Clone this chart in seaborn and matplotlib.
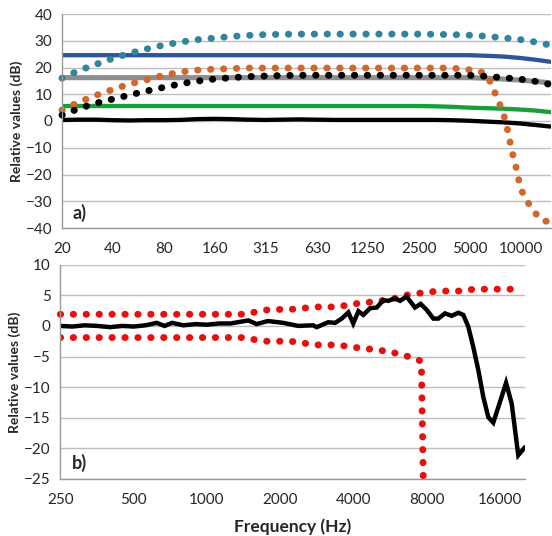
import numpy as np
import pandas as pd
import matplotlib
matplotlib.use("Agg")
import matplotlib.pyplot as plt
import seaborn as sns

# ---- panel a) data (frequency in Hz, level in dB) ----
freq_a = [20, 25, 31.5, 40, 50, 63, 80, 100, 125, 160, 200, 250, 315, 400, 500,
          630, 800, 1000, 1250, 1600, 2000, 2500, 3150, 4000, 5000, 6300, 8000,
          10000, 12500, 15400]
teal_dots = [16.0, 18.8, 21.1, 23.4, 25.3, 26.9, 28.4, 29.5, 30.4, 31.0, 31.6, 32.0,
             32.3, 32.4, 32.5, 32.5, 32.5, 32.5, 32.5, 32.5, 32.5, 32.5, 32.4, 32.3,
             32.1, 31.7, 31.1, 30.5, 29.5, 28.3]
black_dots = [2.2, 4.6, 6.6, 8.2, 9.7, 11.2, 12.6, 13.9, 14.9, 15.7, 16.2, 16.6,
              16.8, 17.0, 17.1, 17.1, 17.1, 17.1, 17.1, 17.1, 17.1, 17.1, 17.1, 17.1,
              17.1, 16.7, 16.2, 15.7, 14.8, 13.6]
navy_line = [24.6] * 25 + [24.4, 24.1, 23.6, 22.9, 22.1]
gray_line = [16.2] * 25 + [16.0, 15.7, 15.3, 14.8, 14.2]
green_line = [5.6] * 22 + [5.5, 5.3, 5.0, 4.8, 4.6, 4.3, 3.9, 3.3]
black_line = [0.4, 0.5, 0.5, 0.3, 0.2, 0.3, 0.3, 0.4, 0.7, 0.8, 0.7, 0.5, 0.4, 0.5,
              0.6, 0.5, 0.4, 0.4, 0.4, 0.4, 0.4, 0.4, 0.4, 0.3, 0.1, -0.2, -0.5,
              -0.9, -1.5, -2.1]

freq_orange = [20, 25, 31.5, 40, 50, 63, 80, 100, 125, 160, 200, 250, 315, 500, 1000,
               2000, 4000, 5000, 5800, 6500, 7000, 7500, 8000, 8400, 8700, 9000, 9400,
               9800, 10100, 10900, 12000, 13300, 15400]
orange_dots = [4.1, 7.0, 9.5, 11.8, 13.8, 15.4, 17.1, 18.3, 19.0, 19.4, 19.6, 19.8,
               19.8, 19.8, 19.8, 19.8, 19.8, 19.2, 18.7, 17.0, 12.2, 7.9, 3.3, -1.2,
               -5.9, -10.6, -15.3, -19.9, -24.6, -29.2, -33.0, -36.8, -38.0]

ticks_a = ["20", "40", "80", "160", "315", "630", "1250", "2500", "5000", "10000"]

# ---- panel b) data ----
freq_b = [250, 280, 315, 355, 400, 450, 500, 560, 622, 670, 720, 800, 900, 1000,
          1120, 1250, 1480, 1600, 1780, 2060, 2374, 2727, 2825, 3150, 3360, 3580,
          3810, 3990, 4190, 4390, 4680, 4980, 5300, 5560, 5920, 6210, 6610, 7150,
          7550, 8000, 8510, 8920, 9500, 10120, 10780, 11300, 11840, 12410, 13020,
          13650, 14310, 15000, 15990, 16930, 17860, 19000, 20250]
measured = [0.0, -0.1, 0.1, 0.0, -0.2, 0.0, -0.1, 0.1, 0.5, 0.0, 0.5, 0.1, 0.3, 0.2,
            0.4, 0.4, 0.9, 0.3, 0.8, 0.5, 0.0, 0.1, -0.2, 0.6, 0.5, 1.2, 2.2, 0.4,
            2.4, 1.8, 2.9, 3.0, 4.2, 4.1, 4.5, 4.1, 4.8, 3.0, 3.6, 2.6, 1.2, 1.2,
            2.05, 1.65, 2.15, 1.8, -0.1, -3.4, -7.2, -11.6, -14.9, -15.8, -12.4,
            -9.3, -12.7, -21.1, -19.8]

freq_upper = [250, 1400, 1550, 1750, 2000, 2200, 2500, 2750, 3500, 3900, 4400, 5000,
              5600, 6300, 7000, 8000, 9000, 11000, 12500, 19000]
tol_upper = [1.9, 1.9, 2.2, 2.6, 2.7, 2.7, 2.9, 3.1, 3.1, 3.6, 3.7, 4.1, 4.2, 4.9,
             5.2, 5.5, 5.7, 5.7, 6.0, 6.0]
freq_lower = [250, 1400, 1550, 1750, 2200, 2500, 2750, 3500, 3900, 4400, 5000, 5600,
              6300, 7000, 7600, 8000]
tol_lower = [-1.9, -1.9, -2.2, -2.5, -2.5, -2.8, -3.1, -3.1, -3.5, -3.6, -4.0, -4.1,
             -4.8, -5.1, -5.8, -60.0]

ticks_b = ["250", "500", "1000", "2000", "4000", "8000", "16000"]

sns.set_style("white")
plt.rcParams["font.family"] = ["Lato", "DejaVu Sans"]

W, H = 552, 536
fig = plt.figure(figsize=(W / 100, H / 100), dpi=100)
ax_a = fig.add_axes([62 / W, 1 - 228 / H, 489 / W, 214 / H])
ax_b = fig.add_axes([60.3 / W, 1 - 479 / H, 464.7 / W, 214.3 / H])

# round-dot line style: big round dots, evenly spaced ~13 px along the path
DOT = dict(linewidth=5.0, linestyle=(0, (0.05, 1.81)), dash_capstyle="round")
SOLID = dict(linewidth=3.1, solid_capstyle="butt")

for ax in (ax_a, ax_b):
    ax.set_xscale("log", base=2)

# panel a
sns.lineplot(x=freq_a, y=navy_line, ax=ax_a, color="#2E5597", **SOLID)
sns.lineplot(x=freq_a, y=gray_line, ax=ax_a, color="#8E8E8E", linewidth=3.7)
sns.lineplot(x=freq_a, y=green_line, ax=ax_a, color="#16A03A", **SOLID)
sns.lineplot(x=freq_a, y=black_line, ax=ax_a, color="black", **SOLID)
sns.lineplot(x=freq_a, y=teal_dots, ax=ax_a, color="#31849B", clip_on=False, **DOT)
sns.lineplot(x=freq_orange, y=orange_dots, ax=ax_a, color="#D2672A", clip_on=False, **DOT)
sns.lineplot(x=freq_a, y=black_dots, ax=ax_a, color="black", clip_on=False, **DOT)

ax_a.set_xlim(20, 15400)
ax_a.set_ylim(-40, 40)
ax_a.set_yticks(range(-40, 41, 10))
ax_a.set_xticks([20 * 2 ** k for k in range(len(ticks_a))])
ax_a.set_xticklabels(ticks_a)
ax_a.set_ylabel("Relative values (dB)", fontsize=10, fontweight="bold", labelpad=2)
ax_a.text(0.022, 0.028, "a)", transform=ax_a.transAxes, fontsize=13,
          fontweight="bold", ha="left", va="bottom")

# panel b
sns.lineplot(x=freq_upper, y=tol_upper, ax=ax_b, color="#E8100F", clip_on=False, **DOT)
sns.lineplot(x=freq_lower, y=tol_lower, ax=ax_b, color="#E8100F", **DOT)
sns.lineplot(x=freq_b, y=measured, ax=ax_b, color="black", linewidth=3.2,
             solid_joinstyle="miter")

ax_b.set_xlim(250, 20250)
ax_b.set_ylim(-25, 10)
ax_b.set_yticks(range(-25, 11, 5))
ax_b.set_xticks([250 * 2 ** k for k in range(len(ticks_b))])
ax_b.set_xticklabels(ticks_b)
ax_b.set_ylabel("Relative values (dB)", fontsize=10, fontweight="bold", labelpad=2)
ax_b.set_xlabel("Frequency (Hz)", fontsize=12.5, fontweight="bold", labelpad=8)
ax_b.text(0.025, 0.033, "b)", transform=ax_b.transAxes, fontsize=13,
          fontweight="bold", ha="left", va="bottom")

for ax in (ax_a, ax_b):
    ax.xaxis.set_minor_locator(matplotlib.ticker.NullLocator())
    ax.set_axisbelow(True)
    ax.yaxis.grid(True, color="#BEBEBE", linewidth=1.0)
    ax.xaxis.grid(False)
    for side in ("top", "right"):
        ax.spines[side].set_visible(False)
    for side in ("left", "bottom"):
        ax.spines[side].set_color("#9A9A9A")
        ax.spines[side].set_linewidth(1.0)
    ax.tick_params(axis="both", which="major", direction="out", length=4,
                   color="#9A9A9A", labelsize=11, pad=3)
    ax.tick_params(axis="x", pad=6)

fig.savefig("out.png", dpi=100)
